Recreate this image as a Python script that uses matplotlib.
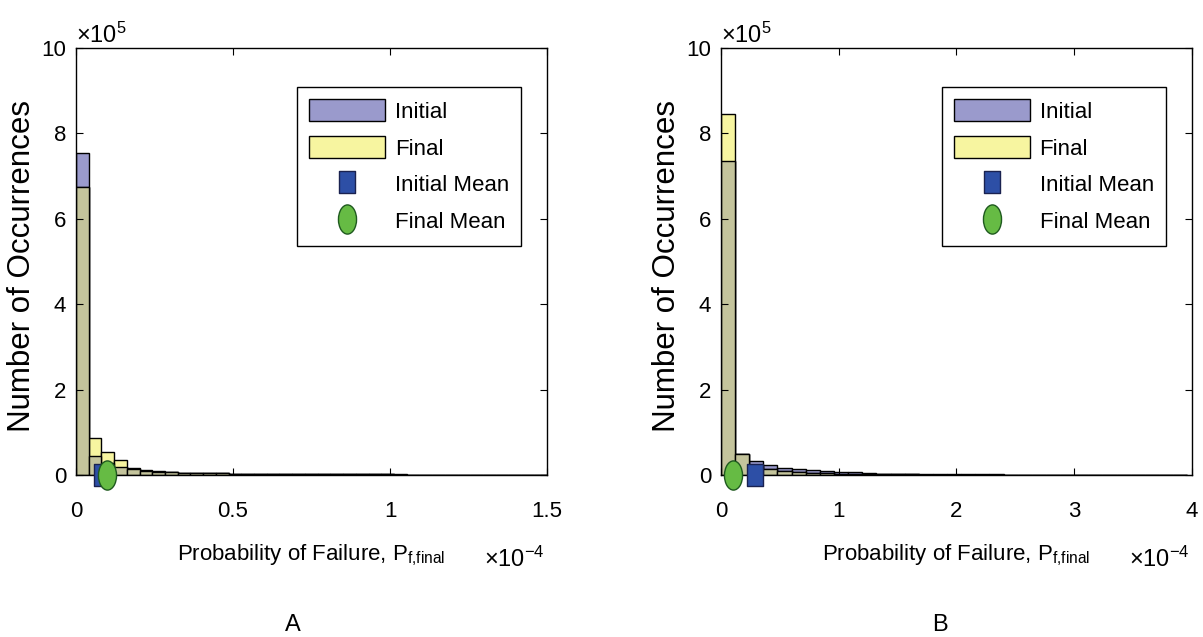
import numpy as np
import matplotlib
matplotlib.use('Agg')
import matplotlib.pyplot as plt
from matplotlib.path import Path
from matplotlib.transforms import Affine2D
from matplotlib.patches import Patch
from matplotlib.lines import Line2D

FONTS = ['Liberation Sans', 'DejaVu Sans']
plt.rcParams['font.family'] = FONTS
plt.rcParams['mathtext.fontset'] = 'custom'
plt.rcParams['mathtext.rm'] = 'Liberation Sans'
plt.rcParams['mathtext.it'] = 'Liberation Sans'

# panel A : histogram of Pf (bin width in 1e-4, counts in 1e5)
bin_a = 0.0405
init_a = [7.55, 0.45, 0.27, 0.18, 0.13, 0.10, 0.075, 0.06, 0.05, 0.045, 0.04, 0.036,
          0.033, 0.03, 0.028, 0.026, 0.025, 0.024, 0.023, 0.022, 0.021, 0.02, 0.02,
          0.019, 0.018, 0.012, 0.011, 0.01, 0.01, 0.009, 0.008, 0.005, 0.004,
          0.004, 0.003, 0.003, 0.002]
final_a = [6.74, 0.86, 0.53, 0.34, 0.16, 0.12, 0.085, 0.065, 0.055, 0.048, 0.042, 0.037,
           0.033, 0.03, 0.027, 0.025, 0.023, 0.021, 0.02, 0.018, 0.017, 0.016, 0.015,
           0.014, 0.013, 0.008, 0.007, 0.006, 0.006, 0.005, 0.004, 0.002, 0.0015,
           0.001, 0.001, 0.0008, 0.0005]
mean_init_a = 0.083
mean_final_a = 0.098
xticks_a = [0, 0.5, 1, 1.5]
xlim_a = 1.5

# panel B
bin_b = 0.12
init_b = [7.35, 0.50, 0.33, 0.23, 0.17, 0.13, 0.12, 0.10, 0.08, 0.065, 0.05, 0.03,
          0.028, 0.026, 0.025, 0.014, 0.013, 0.013, 0.012, 0.012, 0.011, 0.011, 0.01,
          0.01, 0.01, 0.009, 0.007, 0.006, 0.006, 0.005, 0.002, 0.002, 0.002]
final_b = [8.45, 0.50, 0.20, 0.14, 0.10, 0.06, 0.05, 0.04, 0.03, 0.025, 0.02, 0.015,
           0.013, 0.012, 0.011, 0.007, 0.006, 0.006, 0.005, 0.005, 0.004, 0.004, 0.003,
           0.003, 0.003, 0.002, 0.002, 0.0015, 0.0015, 0.001, 0.0005, 0.0005, 0.0005]
mean_init_b = 0.29
mean_final_b = 0.105
xticks_b = [0, 1, 2, 3, 4]
xlim_b = 4

yticks = [0, 2, 4, 6, 8, 10]

C_INIT = '#9a9acc'
C_FINAL = '#f7f5a0'
C_BOTH = '#c4c49c'
C_MEAN_I = '#2d4fa6'
C_MEAN_F = '#66bb44'

# squashed markers (picture is horizontally compressed)
ellipse = Path.unit_circle().transformed(Affine2D().scale(0.62, 1.0))
rect = Path.unit_rectangle().transformed(Affine2D().translate(-0.5, -0.5).scale(0.68, 1.0))


def draw_panel(ax, width, init, final, m_init, m_final, xticks, xmax, letter, letter_x):
    init = np.array(init)
    final = np.array(final)
    left = np.arange(len(init)) * width
    ax.bar(left, init, width=width, align='edge', color=C_INIT, edgecolor='black', lw=1)
    ax.bar(left, final, width=width, align='edge', color=C_FINAL, edgecolor='black', lw=1)
    ax.bar(left, np.minimum(init, final), width=width, align='edge', color=C_BOTH,
           edgecolor='black', lw=1)
    ax.plot([m_init], [0], marker=rect, ms=16, mfc=C_MEAN_I, mec='#1a2250', mew=1,
            ls='none', clip_on=False, zorder=5)
    ax.plot([m_final], [0], marker=ellipse, ms=21, mfc=C_MEAN_F, mec='#1f5a1f', mew=1,
            ls='none', clip_on=False, zorder=6)

    ax.set_xlim(0, xmax)
    ax.set_ylim(0, 10)
    ax.set_xticks(xticks)
    ax.set_xticklabels([('%g' % t) for t in xticks])
    ax.set_yticks(yticks)
    ax.tick_params(direction='in', length=5, width=0.8, top=True, right=True,
                   labelsize=16)
    ax.tick_params(axis='x', pad=19)
    ax.tick_params(axis='y', pad=7)
    for s in ax.spines.values():
        s.set_linewidth(1.0)

    ax.set_xlabel(r'Probability of Failure, P$_{\mathregular{f{,}final}}$', fontsize=16)
    ax.xaxis.set_label_coords(0.5, -0.158)
    ax.set_ylabel('Number of Occurrences', fontsize=22.5)
    ax.yaxis.set_label_coords(-0.083, 0.49)

    ax.text(0.0, 1.012, r'$\times$10$^{5}$', transform=ax.transAxes, fontsize=17,
            ha='left', va='baseline')
    ax.text(0.996, -0.215, r'$\times$10$^{-4}$', transform=ax.transAxes, fontsize=17,
            ha='right', va='baseline')
    ax.text(letter_x, -0.351, letter, transform=ax.transAxes, fontsize=17,
            ha='center', va='center')

    handles = [Patch(facecolor=C_INIT, edgecolor='black', lw=1),
               Patch(facecolor=C_FINAL, edgecolor='black', lw=1),
               Line2D([], [], marker=rect, ms=16, mfc=C_MEAN_I, mec='#1a2250', ls='none'),
               Line2D([], [], marker=ellipse, ms=21, mfc=C_MEAN_F, mec='#1f5a1f', ls='none')]
    leg = ax.legend(handles, ['Initial', 'Final', 'Initial Mean', 'Final Mean'],
                    loc='upper right', bbox_to_anchor=(0.945, 0.909), fontsize=16,
                    handlelength=3.4, handleheight=1.15, handletextpad=0.45,
                    labelspacing=0.6, borderpad=0.55, borderaxespad=0,
                    fancybox=False, framealpha=1, edgecolor='black')
    leg.get_frame().set_linewidth(1.0)


fig = plt.figure(figsize=(12.03, 6.37), dpi=100)
ax_a = fig.add_axes([0.0632, 0.2543, 0.3915, 0.6703])
ax_b = fig.add_axes([0.5993, 0.2543, 0.3915, 0.6703])

draw_panel(ax_a, bin_a, init_a, final_a, mean_init_a, mean_final_a, xticks_a, xlim_a,
           'A', 0.461)
draw_panel(ax_b, bin_b, init_b, final_b, mean_init_b, mean_final_b, xticks_b, xlim_b,
           'B', 0.465)

fig.savefig('out.png', dpi=100)
